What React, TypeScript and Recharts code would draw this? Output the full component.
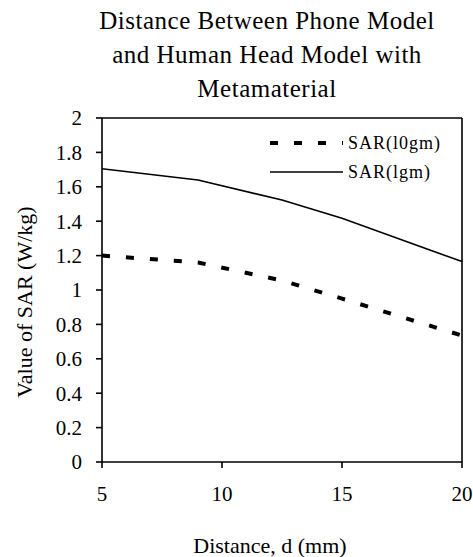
import React from "react";
import { LineChart, Line, XAxis, YAxis, ReferenceLine } from "recharts";

// distance in mm
const distances = [5, 9, 12.5, 15, 20];
const sar10gm = [1.2, 1.16, 1.055, 0.95, 0.735];
const sar1gm = [1.705, 1.64, 1.523, 1.417, 1.165];
const xTicks = [5, 10, 15, 20];
const yTicks = [0, 0.2, 0.4, 0.6, 0.8, 1, 1.2, 1.4, 1.6, 1.8, 2];

const titleLines = ["Distance Between Phone Model", "and Human Head Model with", "Metamaterial"];

const data = distances.map((d, i) => ({ d, sar10: sar10gm[i], sar1: sar1gm[i] }));

const FONT = '"Liberation Serif", "Times New Roman", serif';

const tickStyle = { fontSize: 21, fill: "#000", fontFamily: FONT };

function LegendBox() {
  return (
    <svg width={190} height={60} style={{ display: "block" }}>
      <line x1={2} x2={75} y1={15} y2={15} stroke="#000" strokeWidth={4} strokeDasharray="8 16" />
      <text x={80} y={15} dy="0.35em" fontSize={18} letterSpacing={1} fontFamily={FONT} fill="#000">
        SAR(l0gm)
      </text>
      <line x1={2} x2={75} y1={44} y2={44} stroke="#000" strokeWidth={1.6} />
      <text x={80} y={44} dy="0.35em" fontSize={18} letterSpacing={1} fontFamily={FONT} fill="#000">
        SAR(lgm)
      </text>
    </svg>
  );
}

export default function App() {
  return (
    <div
      style={{
        position: "absolute",
        left: 0,
        top: 0,
        width: 473,
        height: 557,
        background: "#fff",
        fontFamily: FONT,
        color: "#000",
      }}
    >
      <div
        style={{
          position: "absolute",
          left: 67,
          top: 4,
          width: 400,
          textAlign: "center",
          fontSize: 25,
          lineHeight: "34px",
          letterSpacing: 0.5,
        }}
      >
        {titleLines.map((t) => (
          <div key={t}>{t}</div>
        ))}
      </div>

      <div style={{ position: "absolute", left: 0, top: 0 }}>
        <LineChart width={473} height={557} data={data} margin={{ top: 118, right: 11, left: 42, bottom: 65 }}>
          <XAxis
            type="number"
            dataKey="d"
            domain={[5, 20]}
            ticks={xTicks}
            interval={0}
            stroke="#000"
            strokeWidth={1.6}
            tickSize={6}
            tickMargin={18}
            tick={tickStyle}
            height={30}
          />
          <YAxis
            type="number"
            domain={[0, 2]}
            ticks={yTicks}
            interval={0}
            stroke="#000"
            strokeWidth={1.6}
            tickSize={6}
            tickMargin={14}
            tick={tickStyle}
            width={60}
            tickFormatter={(v: number) => String(v)}
          />
          <ReferenceLine y={2} stroke="#000" strokeWidth={1.6} />
          <ReferenceLine x={20} stroke="#000" strokeWidth={1.6} />
          <Line
            type="linear"
            dataKey="sar10"
            stroke="#000"
            strokeWidth={4}
            strokeDasharray="8 16"
            dot={false}
            isAnimationActive={false}
          />
          <Line type="linear" dataKey="sar1" stroke="#000" strokeWidth={1.6} dot={false} isAnimationActive={false} />
        </LineChart>
      </div>

      <div style={{ position: "absolute", left: 268, top: 128 }}>
        <LegendBox />
      </div>

      <div
        style={{
          position: "absolute",
          left: 24.6 - 150,
          top: 302 - 15,
          width: 300,
          height: 30,
          lineHeight: "30px",
          textAlign: "center",
          fontSize: 22,
          transform: "rotate(-90deg)",
        }}
      >
        Value of SAR (W/kg)
      </div>

      <div
        style={{
          position: "absolute",
          left: 120,
          top: 531,
          width: 300,
          height: 30,
          lineHeight: "30px",
          textAlign: "center",
          fontSize: 22,
        }}
      >
        Distance, d (mm)
      </div>
    </div>
  );
}
